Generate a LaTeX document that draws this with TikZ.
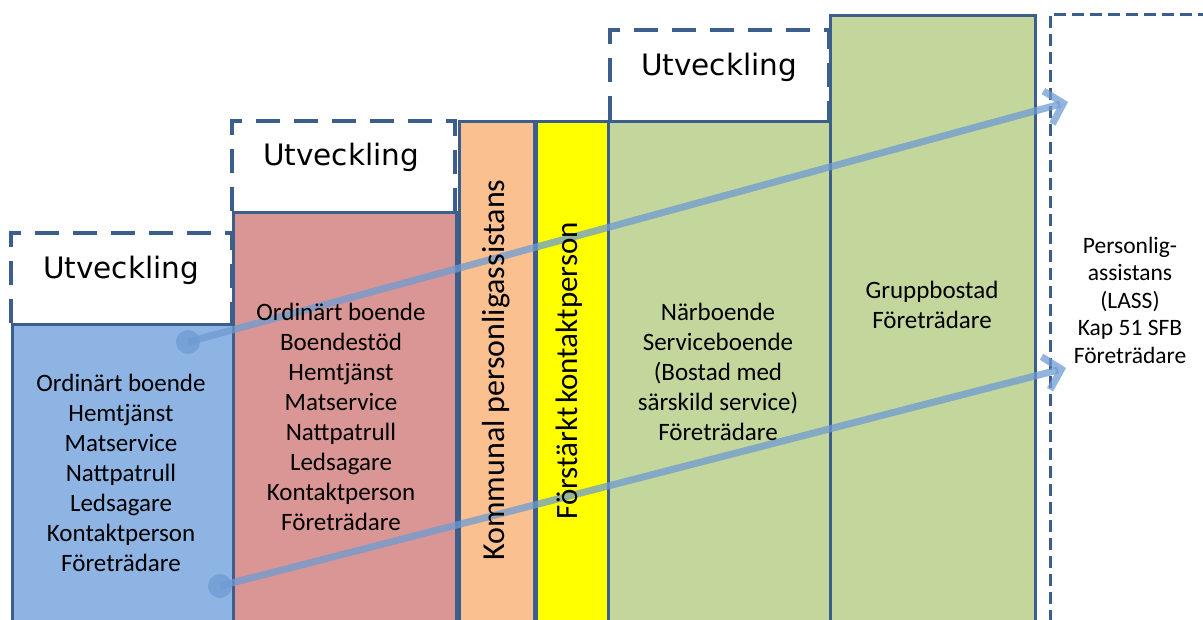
\documentclass[tikz,border=0pt]{standalone}
\usepackage{fontspec}
\setmainfont{Carlito}
\newfontfamily\utvfont{DejaVu Sans}
\usetikzlibrary{arrows.meta}
\definecolor{edge}{RGB}{59,94,140}
\definecolor{cblue}{RGB}{142,180,227}
\definecolor{cred}{RGB}{217,150,148}
\definecolor{corange}{RGB}{250,192,144}
\definecolor{cyellow}{RGB}{255,255,0}
\definecolor{cgreen}{RGB}{195,214,155}
\definecolor{arrowc}{RGB}{110,155,210}
\tikzset{
  box/.style={draw=edge, line width=3pt, anchor=north west, inner sep=0pt},
  body/.style={font=\fontsize{25}{30}\selectfont, align=center, inner sep=0pt},
  small/.style={font=\fontsize{23.5}{27.5}\selectfont, align=center, inner sep=0pt},
  vert/.style={rotate=90, anchor=center, inner sep=0pt},
  utv/.style={font=\utvfont\fontsize{29.5}{30}\selectfont, inner sep=0pt},
  dashbox/.style={draw=edge, line width=4.5pt, dash pattern=on 24pt off 14pt},
  thindash/.style={draw=edge, line width=3pt, dash pattern=on 12pt off 6pt},
  flow/.style={draw=arrowc, line width=7pt, draw opacity=0.75, -{Straight Barb[length=16pt,width=34pt]}},
  dot/.style={circle, fill=arrowc, fill opacity=0.75, minimum size=24pt, inner sep=0pt}
}
\begin{document}
\begin{tikzpicture}[x=1pt,y=-1pt]
\clip (0,0) rectangle (1203,619);
\fill[white] (0,0) rectangle (1203,619);
% dashed development boxes
\draw[dashbox] (11,323) -- (11,233) -- (232,233) -- (232,323);
\draw[dashbox] (232,211) -- (232,121) -- (455,121) -- (455,211);
\draw[dashbox] (610,120) -- (610,30) -- (829,30) -- (829,120);
\draw[thindash] (1050,640) -- (1050,14) -- (1210,14);
% boxes
\node[box, fill=cblue, minimum width=221pt, minimum height=320pt] (blue) at (11,323) {};
\node[box, fill=cred, minimum width=223pt, minimum height=430pt] (red) at (232,211) {};
\node[box, fill=corange, minimum width=75pt, minimum height=520pt] (orange) at (458,120) {};
\node[box, fill=cyellow, minimum width=72pt, minimum height=520pt] (yellow) at (535,120) {};
\node[box, fill=cgreen, minimum width=222pt, minimum height=520pt] (green1) at (607,120) {};
\node[box, fill=cgreen, minimum width=205pt, minimum height=630pt] (green2) at (829,14) {};
% arrows
\node[dot] (s1) at (188,342) {};
\node[dot] (s2) at (220,586) {};
\coordinate (e1) at (1068,102);
\coordinate (e2) at (1066,368);
\draw[flow] (s1.center) -- (e1);
\draw[flow] (s2.center) -- (e2);
% labels
\node[utv] (u1) at (121,270) {Utveckling};
\node[utv] (u2) at (341,157) {Utveckling};
\node[utv] (u3) at (719,67) {Utveckling};
\node[body] (tblue) at (121,473) {Ordinärt boende\\Hemtjänst\\Matservice\\Nattpatrull\\Ledsagare\\Kontaktperson\\Företrädare};
\node[body] (tred) at (341,417) {Ordinärt boende\\Boendestöd\\Hemtjänst\\Matservice\\Nattpatrull\\Ledsagare\\Kontaktperson\\Företrädare};
\node[vert, font=\fontsize{32}{34}\selectfont] (torange) at (496,370) {Kommunal personligassistans};
\node[vert, font=\fontsize{31}{34}\selectfont] (tyellow) at (569,371) {Förstärkt\hspace{4pt}kontaktperson};
\node[body] (tgreen1) at (718,372) {Närboende\\Serviceboende\\(Bostad med\\särskild service)\\Företrädare};
\node[body] (tgreen2) at (932,305) {Gruppbostad\\Företrädare};
\node[small] (tlass) at (1130,300) {Personlig-\\assistans\\(LASS)\\Kap 51 SFB\\Företrädare};
\end{tikzpicture}
\end{document}
